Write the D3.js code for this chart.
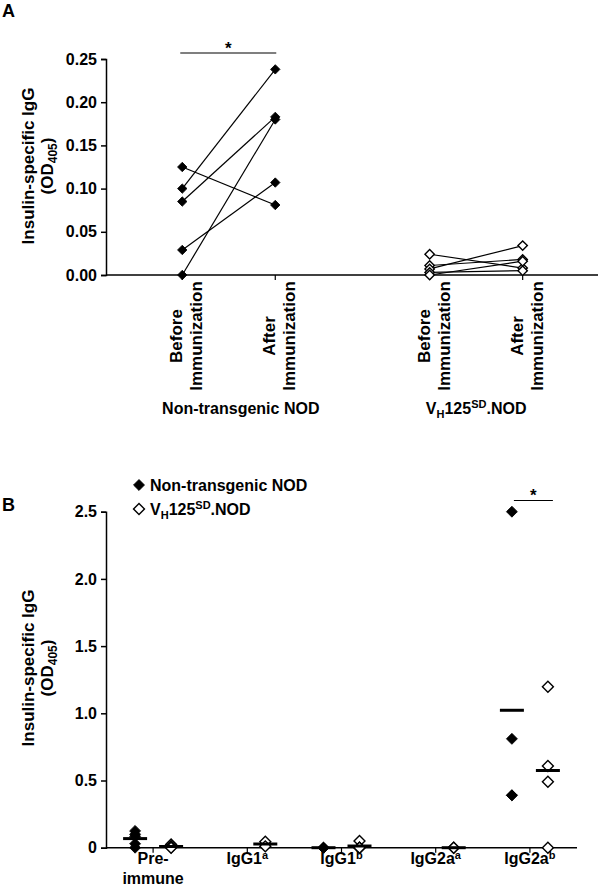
<!DOCTYPE html>
<html><head><meta charset="utf-8">
<script src="https://cdn.jsdelivr.net/npm/d3@7"></script>
<style>
body{margin:0;background:#fff}
text{font-family:"Liberation Sans",Arial,sans-serif;font-weight:bold;fill:#000}
</style>
</head><body>
<svg id="c" width="600" height="890"></svg>
<script>
// ---------- Panel A data ----------
const aPositions = ["Before Immunization","After Immunization"];
const aGroups = ["Non-transgenic NOD","VH125SD.NOD"];
const aTicks = [0, 0.05, 0.10, 0.15, 0.20, 0.25];
const nonTgBefore = [0.125, 0.100, 0.085, 0.029, 0.000];
const nonTgAfter  = [0.081, 0.238, 0.183, 0.107, 0.180];
const vhBefore    = [0.024, 0.011, 0.007, 0.003, 0.000];
const vhAfter     = [0.008, 0.018, 0.034, 0.005, 0.016];

// ---------- Panel B data ----------
const bCategories = ["Pre-immune", "IgG1a", "IgG1b", "IgG2aa", "IgG2ab"];
const bTicks = [0, 0.5, 1.0, 1.5, 2.0, 2.5];
const bNonTg = [nonTgBefore, [], [0, 0, 0], [], [2.5, 0.81, 0.39, 0.39]];
const bVh    = [vhBefore, [0.045, 0.01], [0.05, 0, 0, 0], [0, 0], [1.198, 0.608, 0.491, 0]];
const legendLabels = ["Non-transgenic NOD", "VH125SD.NOD"];

const svg = d3.select("#c");
const black = "#000";

function diamond(g, x, y, size, filled) {
  g.append("path")
    .attr("d", d3.symbol(d3.symbolSquare, size)())
    .attr("transform", `translate(${x},${y}) rotate(45)`)
    .attr("fill", filled ? black : "#fff")
    .attr("stroke", black)
    .attr("stroke-width", filled ? 0.8 : 1.4);
}

function vhLabel(t) {
  t.append("tspan").text("V");
  t.append("tspan").attr("font-size", "11px").attr("dy", 4).text("H");
  t.append("tspan").attr("dy", -4).text("125");
  t.append("tspan").attr("font-size", "11px").attr("dy", -6).text("SD");
  t.append("tspan").attr("dy", 6).text(".NOD");
}

function yTitle(x, y) {
  svg.append("text").attr("transform", `translate(${x},${y}) rotate(-90)`)
    .attr("text-anchor", "middle").attr("font-size", "17px").text("Insulin-specific IgG");
  const t2 = svg.append("text").attr("transform", `translate(${x + 19},${y}) rotate(-90)`)
    .attr("text-anchor", "middle").attr("font-size", "17px");
  t2.append("tspan").text("(OD");
  t2.append("tspan").attr("font-size", "12px").attr("dy", 4).text("405");
  t2.append("tspan").attr("dy", -4).text(")");
}

// ================= PANEL A =================
const gA = svg.append("g");
const yA = d3.scaleLinear().domain([0, 0.25]).range([275, 59]);
const xA = d3.scaleLinear().domain([0.18, 5.47]).range([106, 598]);
const colPos = [[1, 2], [3.66, 4.66]];

svg.append("text").attr("x", 2).attr("y", 17).attr("font-size", "18px").text("A");

const axA = gA.append("g").attr("transform", `translate(${xA.range()[0]},0)`)
  .call(d3.axisLeft(yA).tickValues(aTicks).tickFormat(d3.format(".2f")).tickSize(5).tickPadding(4));
axA.selectAll("text").attr("font-size", "16px").attr("font-family", null);
axA.select(".domain").attr("stroke-width", 1.5);
axA.selectAll(".tick line").attr("stroke-width", 1.5);

gA.append("line").attr("x1", xA.range()[0]).attr("x2", xA.range()[1])
  .attr("y1", yA(0)).attr("y2", yA(0)).attr("stroke", black).attr("stroke-width", 1.5);

const aData = [[nonTgBefore, nonTgAfter], [vhBefore, vhAfter]];
aData.forEach((pair, gi) => {
  const [bx, ax] = colPos[gi].map(p => xA(p));
  [bx, ax].forEach(x => gA.append("line").attr("x1", x).attr("x2", x)
    .attr("y1", yA(0)).attr("y2", yA(0) + 5).attr("stroke", black).attr("stroke-width", 1.2));
  pair[0].forEach((v, i) => {
    gA.append("line").attr("x1", bx).attr("y1", yA(v)).attr("x2", ax).attr("y2", yA(pair[1][i]))
      .attr("stroke", black).attr("stroke-width", 1.2);
  });
  pair.forEach((vals, k) => {
    const x = k === 0 ? bx : ax;
    vals.forEach(v => diamond(gA, x, yA(v), 44, gi === 0));
  });
  [bx, ax].forEach((x, k) => {
    const words = aPositions[k].split(" ");
    words.forEach((w, wi) => {
      gA.append("text").attr("transform", `translate(${x + wi * 20},336) rotate(-90)`)
        .attr("text-anchor", "middle").attr("font-size", "17px").text(w);
    });
  });
  const cx = (bx + ax) / 2 + (gi === 0 ? 12 : 0);
  const gt = gA.append("text").attr("x", cx).attr("y", 414).attr("text-anchor", "middle").attr("font-size", "16px");
  if (gi === 0) gt.text(aGroups[0]); else vhLabel(gt);
});

{
  const x1 = xA(colPos[0][0]) - 2, x2 = xA(colPos[0][1]) + 1;
  gA.append("line").attr("x1", x1).attr("x2", x2).attr("y1", 53).attr("y2", 53).attr("stroke", black).attr("stroke-width", 1.2);
  gA.append("text").attr("x", (x1 + x2) / 2).attr("y", 54).attr("text-anchor", "middle").attr("font-size", "17px").text("*");
}
yTitle(34, 166);

// ================= PANEL B =================
const gB = svg.append("g");
const yB = d3.scaleLinear().domain([0, 2.5]).range([847.7, 511.7]);
const xB = d3.scaleBand().domain(bCategories).range([106, 577]);
const off = 18;

svg.append("text").attr("x", 2).attr("y", 511).attr("font-size", "18px").text("B");

const axB = gB.append("g").attr("transform", `translate(106,0)`)
  .call(d3.axisLeft(yB).tickValues(bTicks).tickFormat(d => d === 0 ? "0" : d3.format(".1f")(d)).tickSize(5).tickPadding(4));
axB.selectAll("text").attr("font-size", "16px").attr("font-family", null);
axB.select(".domain").attr("stroke-width", 1.5);
axB.selectAll(".tick line").attr("stroke-width", 1.5);

gB.append("line").attr("x1", 106).attr("x2", 577).attr("y1", yB(0)).attr("y2", yB(0))
  .attr("stroke", black).attr("stroke-width", 1.5);

bCategories.forEach((c, i) => {
  const cx = xB(c) + xB.bandwidth() / 2;
  gB.append("line").attr("x1", cx).attr("x2", cx).attr("y1", yB(0)).attr("y2", yB(0) + 5)
    .attr("stroke", black).attr("stroke-width", 1.2);
  [[bNonTg[i], -off, true], [bVh[i], off, false]].forEach(([vals, o, filled]) => {
    if (!vals.length) return;
    const x = cx + o;
    vals.forEach(v => diamond(gB, x, yB(v), 60, filled));
    const m = d3.mean(vals);
    gB.append("line").attr("x1", x - 12).attr("x2", x + 12).attr("y1", yB(m)).attr("y2", yB(m))
      .attr("stroke", black).attr("stroke-width", 3);
  });
  const t = gB.append("text").attr("x", cx).attr("y", 864).attr("text-anchor", "middle").attr("font-size", "16px");
  if (c === "Pre-immune") {
    t.append("tspan").attr("x", cx).text("Pre-");
    t.append("tspan").attr("x", cx).attr("dy", 20).text("immune");
  } else {
    t.append("tspan").text(c.slice(0, -1));
    t.append("tspan").attr("font-size", "11px").attr("dy", -5).text(c.slice(-1));
  }
});

legendLabels.forEach((l, i) => {
  const y = 485 + i * 24;
  diamond(svg, 139, y, 60, i === 0);
  const t = svg.append("text").attr("x", 150).attr("y", y + 6).attr("font-size", "16px");
  if (i === 0) t.text(l); else vhLabel(t);
});

{
  const c = bCategories[4];
  const cx = xB(c) + xB.bandwidth() / 2;
  const x1 = cx - off + 2, x2 = cx + off + 5;
  gB.append("line").attr("x1", x1).attr("x2", x2).attr("y1", 500.5).attr("y2", 500.5).attr("stroke", black).attr("stroke-width", 1.2);
  gB.append("text").attr("x", (x1 + x2) / 2).attr("y", 501).attr("text-anchor", "middle").attr("font-size", "17px").text("*");
}
yTitle(34, 668);
</script>
</body></html>
